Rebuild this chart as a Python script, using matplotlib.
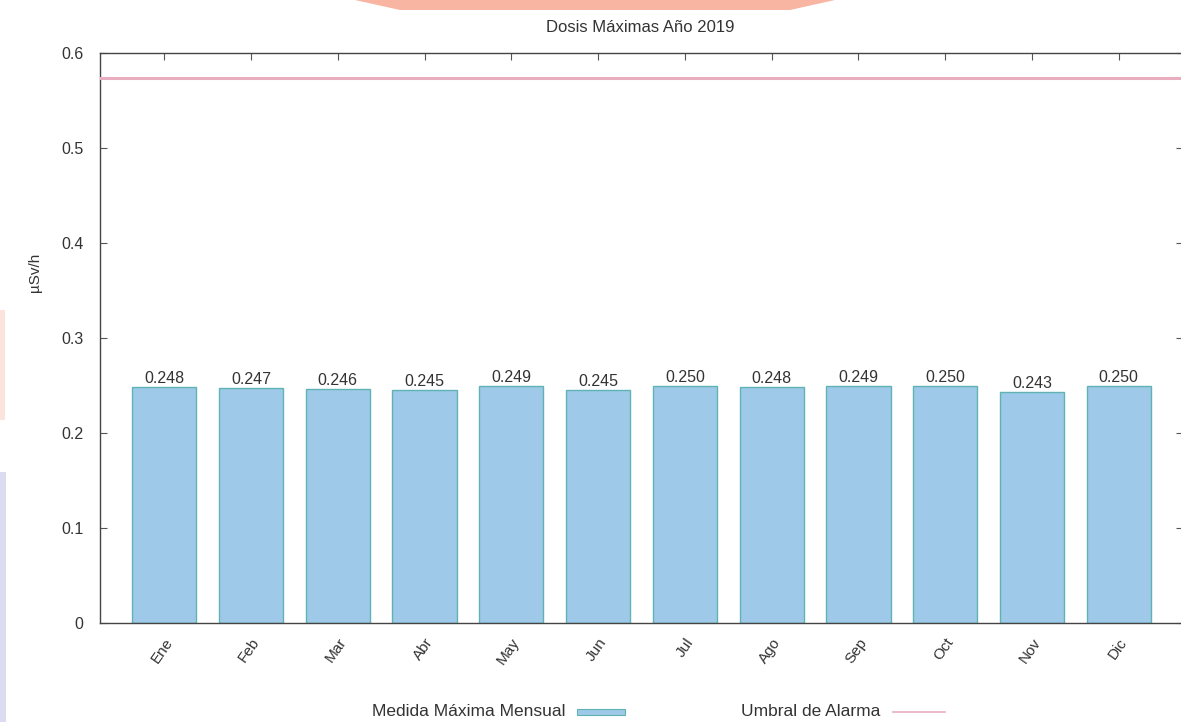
import matplotlib.pyplot as plt
import matplotlib.patches as mpatches
from matplotlib.lines import Line2D
import numpy as np

meses = ["Ene", "Feb", "Mar", "Abr", "May", "Jun",
         "Jul", "Ago", "Sep", "Oct", "Nov", "Dic"]
dosis_max = [0.248, 0.247, 0.246, 0.245, 0.249, 0.245,
             0.250, 0.248, 0.249, 0.250, 0.243, 0.250]
umbral_alarma = 0.574
yticks = [0, 0.1, 0.2, 0.3, 0.4, 0.5, 0.6]
ytick_labels = ["0", "0.1", "0.2", "0.3", "0.4", "0.5", "0.6"]

W, H = 1181, 722
fig = plt.figure(figsize=(W / 100, H / 100), dpi=100)
plt.rcParams['font.family'] = ['Liberation Sans', 'DejaVu Sans']

# decoracion de fondo (marca de agua de la pagina)
fig.patches.append(mpatches.Polygon(
    [(355 / W, 1), (835 / W, 1), (790 / W, 1 - 10 / H), (400 / W, 1 - 10 / H)],
    closed=True, transform=fig.transFigure, facecolor="#f7b5a2", edgecolor="none", zorder=0))
fig.patches.append(mpatches.Rectangle(
    (0, 1 - 420 / H), 5 / W, 110 / H, transform=fig.transFigure,
    facecolor="#fce3dd", edgecolor="none", zorder=0))
fig.patches.append(mpatches.Rectangle(
    (0, 0), 6 / W, 250 / H, transform=fig.transFigure,
    facecolor="#dcdcf0", edgecolor="none", zorder=0))

ax = fig.add_axes([100 / W, 1 - 623 / H, 1083 / W, 570 / H])

x = np.arange(len(meses))
ax.bar(x, dosis_max, width=0.74, color="#9fc9e9", edgecolor="#5fb3b3", linewidth=1.0, zorder=2)
for xi, v in zip(x, dosis_max):
    ax.text(xi, v + 0.001, f"{v:.3f}", ha="center", va="bottom", fontsize=11.5, color="#333333")

ax.axhline(umbral_alarma, color="#e8aec0", linewidth=2.2, zorder=3)

ax.set_xlim(-0.74, len(meses) - 0.26)
ax.set_ylim(0, 0.6)
ax.set_yticks(yticks)
ax.set_yticklabels(ytick_labels, fontsize=11.5, color="#333333")
ax.set_xticks(x)
ax.set_xticklabels(meses, rotation=55, ha="right", rotation_mode="anchor", fontsize=11, color="#333333")
ax.tick_params(axis="both", direction="in", length=5, color="#555555", top=True, right=True)
ax.tick_params(axis="y", pad=12)
ax.tick_params(axis="x", pad=9)
for s in ax.spines.values():
    s.set_color("#444444")
    s.set_linewidth(1.0)

fig.text(640 / W, 1 - 28 / H, "Dosis Máximas Año 2019", ha="center", va="center", fontsize=12, color="#333333")
fig.text(35 / W, 1 - 272 / H, "µSv/h", ha="center", va="center", rotation=90, fontsize=11, color="#333333")

# leyenda inferior
ley_y = 1 - 712 / H
fig.text(566 / W, ley_y, "Medida Máxima Mensual", ha="right", va="center", fontsize=12.5, color="#333333")
fig.patches.append(mpatches.Rectangle(
    (577 / W, ley_y - 3 / H), 48 / W, 6 / H, transform=fig.transFigure,
    facecolor="#9fc9e9", edgecolor="#5fb3b3", linewidth=0.8))
fig.text(880 / W, ley_y, "Umbral de Alarma", ha="right", va="center", fontsize=12.5, color="#333333")
fig.lines.append(Line2D([893 / W, 945 / W], [ley_y, ley_y], transform=fig.transFigure,
                        color="#e8aec0", linewidth=1.2))

fig.savefig("out.png", dpi=100)
